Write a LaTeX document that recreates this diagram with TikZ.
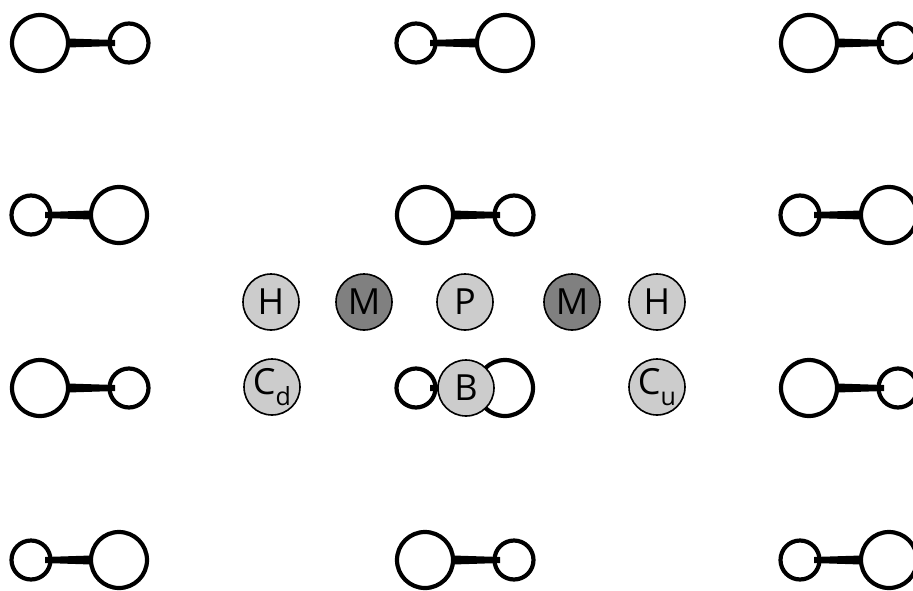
\documentclass[tikz,border=0pt]{standalone}
\usepackage{fontspec}
\setmainfont{Open Sans}
\usetikzlibrary{calc}
\definecolor{lightfill}{HTML}{CCCCCC}
\definecolor{darkfill}{HTML}{808080}
\tikzset{
  bigatom/.style={circle, draw, line width=4.2pt, minimum size=56pt, inner sep=0pt},
  smallatom/.style={circle, draw, line width=4.2pt, minimum size=39pt, inner sep=0pt},
  site/.style={circle, draw, line width=1.6pt, minimum size=56pt, inner sep=0pt,
    fill=lightfill, font=\fontsize{36}{36}\selectfont},
  darksite/.style={site, fill=darkfill},
  bond/.style={fill=black, draw=none}
}
% \molec{name}{x of large atom}{x of small atom}{y}
\newcommand\molec[4]{%
  \node[bigatom] (#1b) at (#2,#4) {};
  \node[smallatom] (#1s) at (#3,#4) {};
  \coordinate (#1p) at ($(#1b)!28pt!(#1s)$);
  \coordinate (#1q) at ($(#1s)!14pt!(#1b)$);
  \fill[bond] ($(#1p)!4.5pt!90:(#1s)$) -- ($(#1q)!3pt!-90:(#1b)$)
    -- ($(#1q)!3pt!90:(#1b)$) -- ($(#1p)!4.5pt!-90:(#1s)$) -- cycle;
}
\newcommand\subtext[1]{\raisebox{-0.3em}{\fontsize{25}{25}\selectfont #1}}
\begin{document}
\begin{tikzpicture}[x=1pt,y=-1pt]
  \useasboundingbox (0,0) rectangle (913,590);
  \clip (0,0) rectangle (913,590);
  % rows 1 and 3
  \molec{a1}{40}{129}{43}
  \molec{a2}{505}{416}{43}
  \molec{a3}{809}{898}{43}
  \molec{c1}{40}{129}{388}
  \molec{c2}{505}{416}{388}
  \molec{c3}{809}{898}{388}
  % rows 2 and 4
  \molec{b1}{119}{31}{215}
  \molec{b2}{425}{514}{215}
  \molec{b3}{889}{800}{215}
  \molec{d1}{119}{31}{560}
  \molec{d2}{425}{514}{560}
  \molec{d3}{889}{800}{560}
  % labelled sites
  \node[site] (h1) at (271,302) {H};
  \node[darksite] (m1) at (364,302) {M};
  \node[site] (p) at (465,302) {P};
  \node[darksite] (m2) at (572,302) {M};
  \node[site] (h2) at (657,302) {H};
  \node[site] (cd) at (272,387) {C\subtext{d}};
  \node[site] (b) at (466,388) {B};
  \node[site] (cu) at (657,387) {C\subtext{u}};
\end{tikzpicture}
\end{document}
